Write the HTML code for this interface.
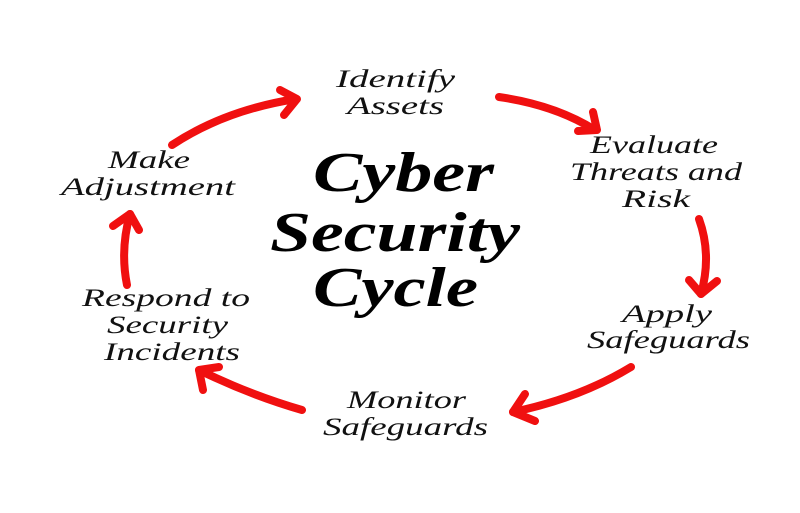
<!DOCTYPE html><html><head><style>body{margin:0;background:#fff}svg{display:block}</style></head><body>
<svg width="800" height="513" xmlns="http://www.w3.org/2000/svg">
<g fill="none" stroke="#f01010" stroke-width="8" stroke-linecap="round" stroke-linejoin="round">
<path d="M172,145 Q225,110 296,99"/><path d="M280,90 L297,99 L284,115"/>
<path d="M499,97 Q555,105 595,130"/><path d="M593,112 L597,130 L578,131"/>
<path d="M699,219 Q712,255 701,294"/><path d="M689,280 L701,294 L717,281"/>
<path d="M631,367 Q580,398 513,412"/><path d="M525,394 L513,412 L535,421"/>
<path d="M302,410 Q250,395 199,370"/><path d="M203,390 L199,370 L219,367"/>
<path d="M127,285 Q120,250 130,214"/><path d="M113,226 L130,214 L139,230"/>
</g>
<g font-family="Liberation Serif, serif" font-style="italic" font-size="25" fill="#111" lengthAdjust="spacingAndGlyphs">
<text x="336" y="87" textLength="119" lengthAdjust="spacingAndGlyphs">Identify</text>
<text x="347" y="114" textLength="97" lengthAdjust="spacingAndGlyphs">Assets</text>
<text x="590" y="153" textLength="128" lengthAdjust="spacingAndGlyphs">Evaluate</text>
<text x="570" y="180" textLength="172" lengthAdjust="spacingAndGlyphs">Threats and</text>
<text x="622" y="207" textLength="68" lengthAdjust="spacingAndGlyphs">Risk</text>
<text x="622" y="322" textLength="90" lengthAdjust="spacingAndGlyphs">Apply</text>
<text x="587" y="348" textLength="163" lengthAdjust="spacingAndGlyphs">Safeguards</text>
<text x="347" y="408" textLength="119" lengthAdjust="spacingAndGlyphs">Monitor</text>
<text x="323" y="435" textLength="165" lengthAdjust="spacingAndGlyphs">Safeguards</text>
<text x="82" y="306" textLength="168" lengthAdjust="spacingAndGlyphs">Respond to</text>
<text x="107" y="333" textLength="121" lengthAdjust="spacingAndGlyphs">Security</text>
<text x="104" y="360" textLength="136" lengthAdjust="spacingAndGlyphs">Incidents</text>
<text x="108" y="168" textLength="82" lengthAdjust="spacingAndGlyphs">Make</text>
<text x="61" y="195" textLength="174" lengthAdjust="spacingAndGlyphs">Adjustment</text>
</g>
<g font-family="Liberation Serif, serif" font-style="italic" font-weight="bold" font-size="56" fill="#000">
<text x="313" y="191" textLength="181" lengthAdjust="spacingAndGlyphs">Cyber</text>
<text x="270" y="251" textLength="250" lengthAdjust="spacingAndGlyphs">Security</text>
<text x="313" y="306" textLength="165" lengthAdjust="spacingAndGlyphs">Cycle</text>
</g>
</svg></body></html>
